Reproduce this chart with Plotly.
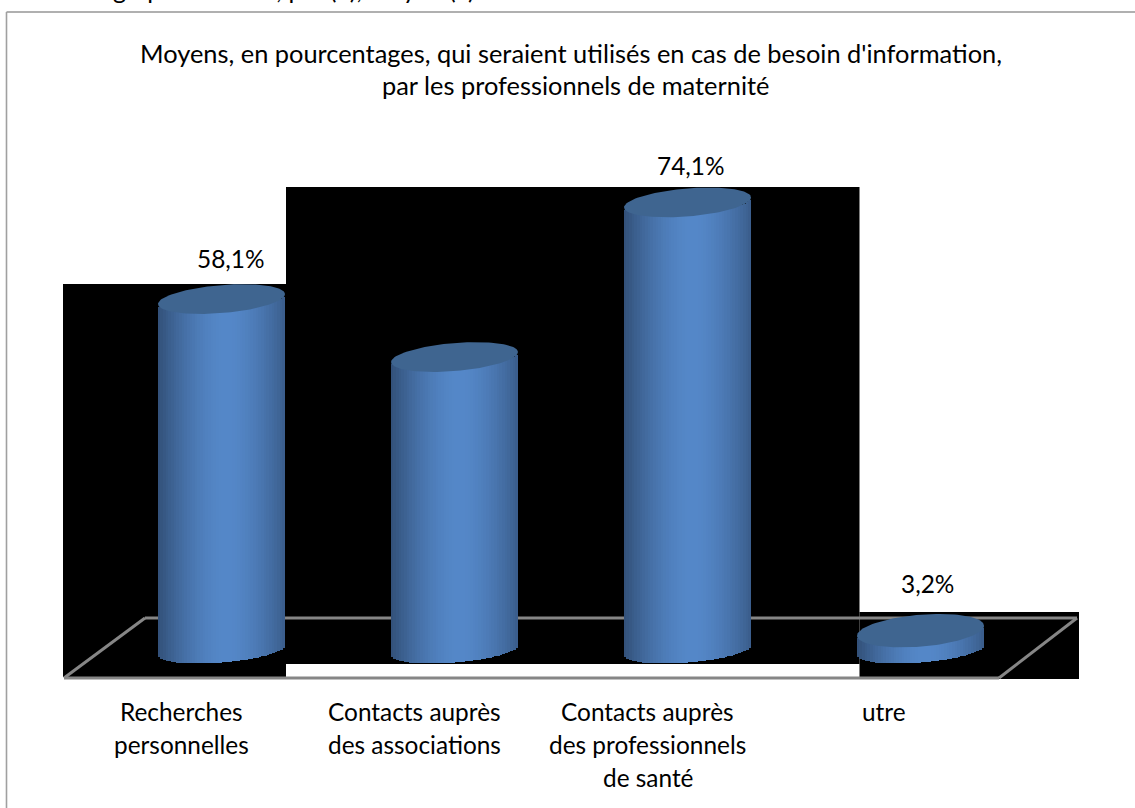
import numpy as np
import plotly.graph_objects as go

categories = ["Recherches personnelles", "Contacts auprès des associations",
              "Contacts auprès des professionnels de santé", "utre"]
values = [58.1, 48.5, 74.1, 3.2]
value_labels = ["58,1%", None, "74,1%", "3,2%"]
label_lines = [["Recherches", "personnelles"],
               ["Contacts auprès", "des associations"],
               ["Contacts auprès", "des professionnels", "de santé"],
               ["utre"]]
title_lines = ["Moyens, en pourcentages, qui seraient utilisés en cas de besoin d'information,",
               "par les professionnels de maternité"]
cropped_heading = "graphes totaux, par (n), moyen (x)"

W, H = 1135, 808
PLOT_BOTTOM = 690
BASE_PX, PX_PER_UNIT = 650, 6.04
X0_PX, STEP_PX = 221.5, 233
BAR_W_PX = 127
FONT = "Lato"
FS = 24.4
TITLE_FS = 25.4


def fx(px):
    return px / W


def fy(py):
    return (PLOT_BOTTOM - py) / PLOT_BOTTOM


def shade(t):
    # cylinder side shading; t from -1 (left) to 1 (right)
    k = np.clip(1 - (abs(t - 0.08) / 1.08) ** 1.7, 0, 1)
    dark, light = np.array([50, 80, 120]), np.array([85, 136, 201])
    c = dark + (light - dark) * k
    return "rgb(%d,%d,%d)" % tuple(c)


half_x = BAR_W_PX / 2 / STEP_PX
tilt = 5 / PX_PER_UNIT
semi_top = 14 / PX_PER_UNIT
semi_bottom = 12.5 / PX_PER_UNIT
top_scale = [1, 1, 1, 1.14]
N = 48
idx = np.arange(len(values))
vals = np.array(values)

fig = go.Figure()
edges = np.linspace(-1, 1, N + 1)
for i in range(N):
    t = (edges[i] + edges[i + 1]) / 2
    lower = tilt * t - semi_bottom * np.sqrt(1 - t * t)
    fig.add_bar(x=idx + t * half_x, y=vals, base=[lower] * len(vals),
                width=2 * half_x / N * 1.15,
                marker=dict(color=shade(t), line_width=0),
                hoverinfo="skip", showlegend=False)

theta = np.linspace(0, 2 * np.pi, 120)
for i, v in enumerate(values):
    fig.add_scatter(x=i + half_x * np.cos(theta),
                    y=v + tilt * np.cos(theta) + semi_top * top_scale[i] * np.sin(theta),
                    mode="lines", fill="toself", fillcolor="#3f6590",
                    line=dict(width=0, color="#3f6590"),
                    hoverinfo="skip", showlegend=False)

shapes = []
for x0, y0, x1, y1 in [(63, 284, 286, 677), (286, 187, 859.5, 664), (859.5, 612, 1079, 679)]:
    shapes.append(dict(type="rect", xref="paper", yref="paper", layer="below",
                       x0=fx(x0), x1=fx(x1), y0=fy(y0), y1=fy(y1),
                       fillcolor="black", line_width=0))
floor_pts = [(64, 678), (145, 618), (1077, 618), (999, 678), (64, 678)]
for (xa, ya), (xb, yb) in zip(floor_pts[:-1], floor_pts[1:]):
    shapes.append(dict(type="line", xref="paper", yref="paper", layer="below",
                       x0=fx(xa), x1=fx(xb), y0=fy(ya), y1=fy(yb),
                       line=dict(color="#868686", width=3)))
shapes.append(dict(type="line", xref="paper", yref="paper", x0=fx(6.5), x1=fx(1135),
                   y0=fy(12), y1=fy(12), line=dict(color="#969696", width=1.6)))
shapes.append(dict(type="line", xref="paper", yref="paper", x0=fx(6.5), x1=fx(6.5),
                   y0=fy(12), y1=fy(808), line=dict(color="#a0a0a0", width=1.6)))

ann = []


def text(s, xp, yp, size=FS):
    ann.append(dict(text=s, x=fx(xp), y=fy(yp), xref="paper", yref="paper",
                    xanchor="center", yanchor="middle", showarrow=False,
                    font=dict(family=FONT, size=size, color="black")))


text(title_lines[0], 570.5, 53, TITLE_FS)
text(title_lines[1], 575, 85, TITLE_FS)
text(cropped_heading, 294, -11.5, 25)

label_dx = -40
line_ys = [711, 744, 777]
for i, lines in enumerate(label_lines):
    for ln, y in zip(lines, line_ys):
        text(ln, X0_PX + i * STEP_PX + label_dx + (3 if i == 3 else 0), y)

label_shift = [(9.5, 41), None, (3, 36.5), (7, 47)]
for i, lab in enumerate(value_labels):
    if lab:
        dx, dy = label_shift[i]
        ann.append(dict(text=lab, x=i, y=values[i], xref="x", yref="y", xshift=dx, yshift=dy,
                        showarrow=False, xanchor="center", yanchor="middle",
                        font=dict(family=FONT, size=FS, color="black")))

fig.update_layout(
    width=W, height=H, margin=dict(l=0, r=0, t=0, b=H - PLOT_BOTTOM),
    paper_bgcolor="white", plot_bgcolor="rgba(0,0,0,0)", barmode="overlay", bargap=0,
    shapes=shapes, annotations=ann, showlegend=False,
    xaxis=dict(range=[-X0_PX / STEP_PX, (W - X0_PX) / STEP_PX], visible=False, fixedrange=True),
    yaxis=dict(range=[-(PLOT_BOTTOM - BASE_PX) / PX_PER_UNIT, BASE_PX / PX_PER_UNIT],
               visible=False, fixedrange=True),
)
fig.write_html("out.html", post_script="document.body.style.margin='0';document.body.style.overflow='hidden';",
               config={"displayModeBar": False})
